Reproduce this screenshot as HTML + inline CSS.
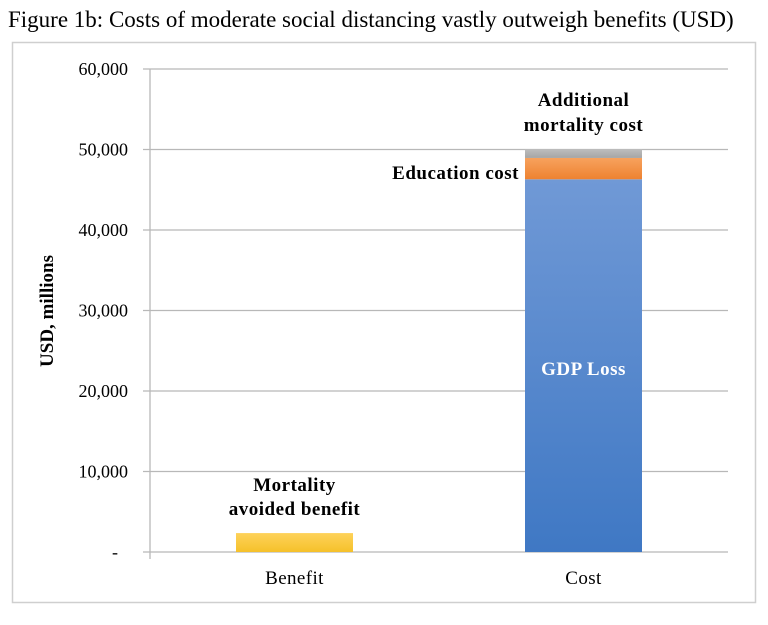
<!DOCTYPE html>
<html><head><meta charset="utf-8"><style>
body{margin:0;background:#fff;width:768px;height:620px;overflow:hidden;font-family:"Liberation Serif",serif;}
</style></head><body>
<svg width="768" height="620" xmlns="http://www.w3.org/2000/svg">
<defs>
<linearGradient id="gBlue" x1="0" y1="0" x2="0" y2="1"><stop offset="0" stop-color="#7099d6"/><stop offset="1" stop-color="#3f78c4"/></linearGradient>
<linearGradient id="gOr" x1="0" y1="0" x2="0" y2="1"><stop offset="0" stop-color="#f7a25e"/><stop offset="1" stop-color="#ee8230"/></linearGradient>
<linearGradient id="gGr" x1="0" y1="0" x2="0" y2="1"><stop offset="0" stop-color="#bdbdbd"/><stop offset="1" stop-color="#a5a5a5"/></linearGradient>
<linearGradient id="gY" x1="0" y1="0" x2="0" y2="1"><stop offset="0" stop-color="#fed25a"/><stop offset="1" stop-color="#f5c12a"/></linearGradient>
</defs>
<text x="8" y="27" font-size="23" fill="#000" font-family="Liberation Serif, serif">Figure 1b: Costs of moderate social distancing vastly outweigh benefits (USD)</text>
<rect x="12.5" y="42.5" width="743" height="560" fill="none" stroke="#cfcfcf" stroke-width="1.5"/>
<g id="grid"></g>
<g id="bars"></g>
<g id="labels"></g>
<text transform="translate(53,311) rotate(-90)" text-anchor="middle" font-size="19" font-weight="bold">USD, millions</text>
</svg>
<script>
const ticks=[0,10000,20000,30000,40000,50000,60000];
const tickLabels=["-","10,000","20,000","30,000","40,000","50,000","60,000"];
const categories=["Benefit","Cost"];
const benefitValues=[2350,0];
const gdpValues=[0,46300];
const eduValues=[0,2650];
const mortCostValues=[0,1080];
const NS="http://www.w3.org/2000/svg";
const x0=150,x1=728,yTop=69,yBot=552,yMax=60000;
const y=v=>yBot-(v/yMax)*(yBot-yTop);
const bandW=(x1-x0)/categories.length;
const cx=i=>x0+bandW*(i+0.5);
const barW=117;
function mk(tag,attrs,parent){const e=document.createElementNS(NS,tag);for(const k in attrs)e.setAttribute(k,attrs[k]);parent.appendChild(e);return e;}
const grid=document.getElementById('grid'),bars=document.getElementById('bars'),labels=document.getElementById('labels');
ticks.forEach((t,i)=>{
 const l=mk('line',{x1:143,x2:x1,y1:y(t),y2:y(t),stroke:'#b8b8b8','stroke-width':1.3},grid);
 
 
 const tx=mk('text',{x:i==0?118:128,y:y(t)+6,'text-anchor':'end','font-size':18},grid);
 tx.textContent=tickLabels[i];
 
 
});
const ax=mk('line',{x1:x0,x2:x0,y1:yTop,y2:yBot+7,stroke:'#b8b8b8','stroke-width':1.3},grid);


categories.forEach((c,i)=>{
 const series=[[benefitValues[i],'url(#gY)','bar-mortality-benefit'],[gdpValues[i],'url(#gBlue)','bar-gdp-loss'],[eduValues[i],'url(#gOr)','bar-education-cost'],[mortCostValues[i],'url(#gGr)','bar-mortality-cost']];
 let base=0;
 series.forEach(s=>{
  if(s[0]<=0)return;
  const r=mk('rect',{x:cx(i)-barW/2,y:y(base+s[0]),width:barW,height:y(base)-y(base+s[0]),fill:s[1]},bars);
  
  
  base+=s[0];
 });
 const t=mk('text',{x:cx(i),y:584,'text-anchor':'middle','font-size':19,'letter-spacing':0.4},labels);
 t.textContent=c;
 
 
});
function lab(txt,x,yy,anchor,fill,name){const t=mk('text',{x:x,y:yy,'text-anchor':anchor,'font-size':19,'font-weight':'bold','letter-spacing':0.5,fill:fill},labels);t.textContent=txt;
 
 }
lab('Mortality',cx(0),491,'middle','#000','benefit-label');
lab('avoided benefit',cx(0),515,'middle','#000','benefit-label-2');
lab('Additional',cx(1),106,'middle','#000','mortality-cost-label');
lab('mortality cost',cx(1),131,'middle','#000','mortality-cost-label-2');
lab('Education cost',519,179,'end','#000','education-cost-label');
lab('GDP Loss',cx(1),375,'middle','#fff','gdp-loss-label');
</script>
</body></html>
